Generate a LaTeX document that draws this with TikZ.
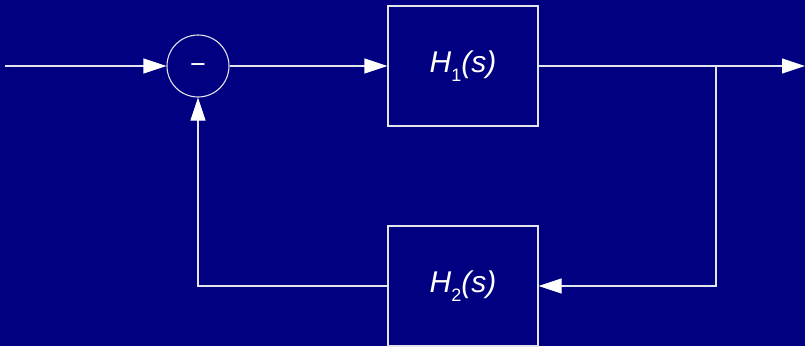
\documentclass[tikz,border=0pt]{standalone}
\usepackage{fontspec}
\setmainfont{Liberation Sans}
\usetikzlibrary{arrows.meta}
\definecolor{bg}{HTML}{000080}
\definecolor{ln}{HTML}{E4E4EC}
\tikzset{
  wire/.style={draw=ln, line width=1.1pt},
  arr/.style={wire, -{Triangle[length=23pt,width=15pt,fill=white,color=white]}},
  blk/.style={draw=ln, line width=1.1pt, minimum width=150pt, minimum height=120pt, inner sep=0pt, text=white,
    font=\fontsize{30}{30}\selectfont},
  sumc/.style={circle, draw=ln, line width=1.1pt, minimum size=62pt, inner sep=0pt, text=white,
    font=\fontsize{27}{27}\selectfont},
}
\newcommand{\hsub}[1]{\textit{H}\raisebox{-0.32em}{\fontsize{18}{18}\selectfont #1}\textit{(s)}}
\begin{document}
\begin{tikzpicture}[x=1pt,y=-1pt]
\fill[bg] (0,0) rectangle (805,346);
\useasboundingbox (0,0) rectangle (805,346);
\coordinate (in) at (5,66);
\coordinate (out) at (805,66);
\coordinate (br) at (716,66);
\coordinate (br2) at (716,286);
\coordinate (corner) at (198,286);
\node[sumc] (sum) at (198,66) {};
\node[text=white, font=\fontsize{27}{27}\selectfont, inner sep=0pt] (minus) at ([yshift=-3pt]sum.center) {−};
\node[blk] (h1) at (463,66) {\hsub{1}};
\node[blk] (h2) at (463,286) {\hsub{2}};
\draw[arr] (in) -- (sum.west);
\draw[arr] (sum.east) -- (h1.west);
\draw[arr] (h1.east) -- (out);
\draw[arr] (br) -- (br2) -- (h2.east);
\draw[arr] (h2.west) -- (corner) -- (sum.south);
\end{tikzpicture}
\end{document}
